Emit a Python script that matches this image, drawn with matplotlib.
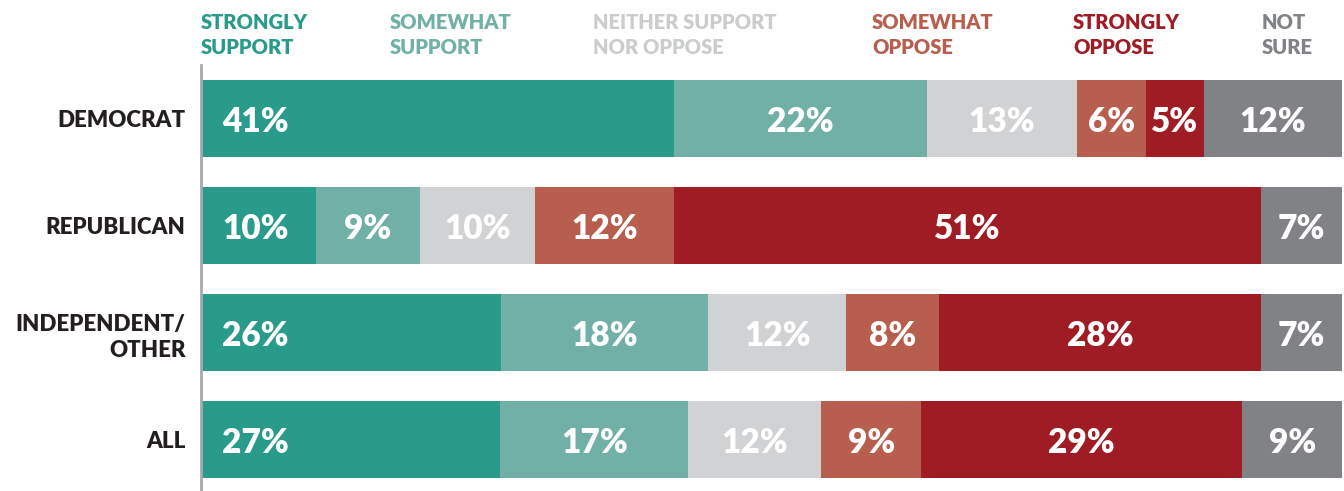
import numpy as np
import matplotlib.pyplot as plt

plt.rcParams['font.family'] = ['Lato', 'DejaVu Sans']

groups = ['DEMOCRAT', 'REPUBLICAN', 'INDEPENDENT/\nOTHER', 'ALL']
responses = ['STRONGLY\nSUPPORT', 'SOMEWHAT\nSUPPORT', 'NEITHER SUPPORT\nNOR OPPOSE',
             'SOMEWHAT\nOPPOSE', 'STRONGLY\nOPPOSE', 'NOT\nSURE']

strongly_support = [41, 10, 26, 27]
somewhat_support = [22, 9, 18, 17]
neither = [13, 10, 12, 12]
somewhat_oppose = [6, 12, 8, 9]
strongly_oppose = [5, 51, 28, 29]
not_sure = [12, 7, 7, 9]

bar_colors = ['#289b8b', '#71b0a7', '#d1d2d4', '#b75e4e', '#a01c24', '#818285']
header_colors = ['#289b8b', '#71b0a7', '#cbcccd', '#b75e4e', '#a01c24', '#818285']
header_x = [201, 390, 593, 872, 1073, 1262]

series = np.array([strongly_support, somewhat_support, neither,
                   somewhat_oppose, strongly_oppose, not_sure], dtype=float)
# each row is shown as a full 100% bar
shares = series / series.sum(axis=0) * 100

W, H = 1344, 491
fig = plt.figure(figsize=(W / 100, H / 100), dpi=100)
ax = fig.add_axes([201 / W, 0, 1141 / W, (491 - 65) / H])

y = np.arange(len(groups))
left = np.zeros(len(groups))
for i in range(len(responses)):
    ax.barh(y, shares[i], left=left, height=0.72, color=bar_colors[i], linewidth=0)
    for j in range(len(groups)):
        label = f'{int(series[i, j])}%'
        if i == 0:
            ax.text(left[j] + 1.85, y[j], label, ha='left', va='center_baseline',
                    color='white', fontsize=24, fontweight='heavy')
        else:
            ax.text(left[j] + shares[i, j] / 2, y[j], label, ha='center',
                    va='center_baseline', color='white', fontsize=24, fontweight='heavy')
    left += shares[i]

ax.set_xlim(0, 100)
ax.set_ylim(3.48, -0.5)
ax.set_yticks(y)
ax.set_yticklabels(groups, fontsize=16, fontweight='heavy', color='#231f20',
                   linespacing=1.3)
ax.tick_params(axis='y', length=0, pad=11)
ax.set_xticks([])
for side in ['top', 'right', 'bottom']:
    ax.spines[side].set_visible(False)
ax.spines['left'].set_color('#a7a9ac')
ax.spines['left'].set_linewidth(2)

for text, color, x in zip(responses, header_colors, header_x):
    fig.text(x / W, 1 - 13 / H, text, ha='left', va='top', color=color,
             fontsize=14.5, fontweight='heavy', linespacing=1.35)

fig.savefig('out.png', dpi=100, facecolor='white')
